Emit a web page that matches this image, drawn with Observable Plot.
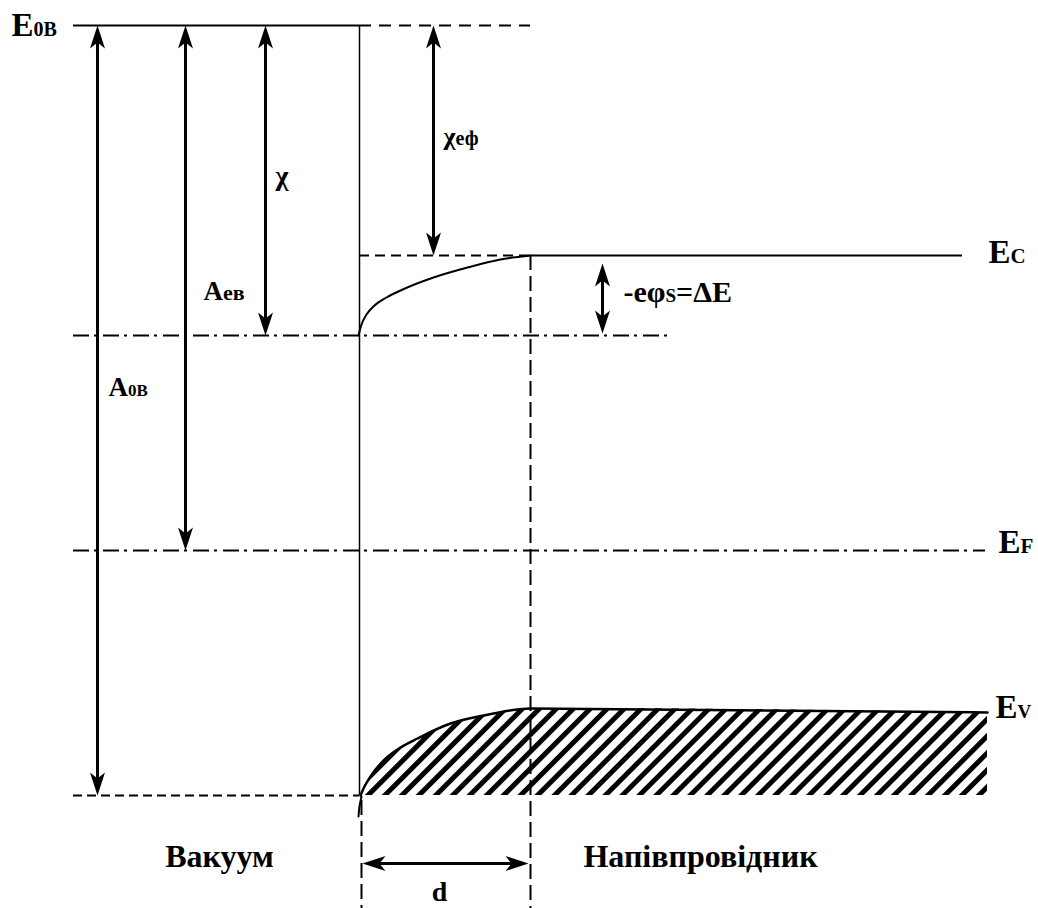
<!DOCTYPE html>
<html><head><meta charset="utf-8">
<script src="https://cdn.jsdelivr.net/npm/d3@7"></script>
<script src="https://cdn.jsdelivr.net/npm/@observablehq/plot@0.6"></script>
<style>html,body{margin:0;padding:0;background:#fff;} svg{display:block;} svg text{font-family:"Liberation Serif",serif;}</style>
</head><body><div id="chart"></div>
<script>
// ---- Energy levels (picture units, y grows downward) ----
const yE0B = 25;          // vacuum level
const yEc = 255;          // conduction band edge in bulk
const yEcSurface = 335;   // conduction band edge at surface
const yEF = 550;          // Fermi level
const yEvSurface = 795;   // valence band edge at surface
// ---- x positions ----
const xLevelStart = 73;
const xSurface = 359;
const xBulk = 530;
const xDashEnd = 530;
const xEcEnd = 962;
const xEsEnd = 667;
const xEFEnd = 985;

// Band bending curves
const ecBandX = [358, 361, 366, 374, 386, 400, 433, 467, 500, 530];
const ecBandY = [335, 324, 314, 305, 297, 290, 277, 267, 259, 255];
const evBandX = [360, 364, 370, 383, 400, 417, 450, 483, 517, 530, 987];
const evBandY = [795, 786, 776, 760, 747, 738, 723, 715, 709, 708, 712];
const evTailX = [358, 359, 361];
const evTailY = [816, 806, 796];

// Double arrows (vertical)
const arrowNames = ["A0B", "Aев", "χ", "χеф", "ΔE"];
const arrowX = [97, 185, 265, 433, 602];
const arrowTop = [25, 25, 25, 25, 263];
const arrowBottom = [795, 550, 335, 255, 333];
// Horizontal arrow "d"
const dArrowY = 863;
const dArrowX1 = 362, dArrowX2 = 528;

// Text labels: main text, subscript, tail
const labelMain = ["E", "E", "E", "E", "A", "A", "χ", "χ", "-eφ", "Вакуум", "Напівпровідник", "d"];
const labelSub  = ["0B", "C", "F", "V", "0B", "ев", "", "еф", "S", "", "", ""];
const labelTail = ["", "", "", "", "", "", "", "", "=ΔE", "", "", ""];
const labelX    = [11, 988, 998, 995, 108, 203, 275, 443, 623, 219, 700, 439];
const labelY    = [35, 262, 552, 717, 395, 299, 184, 144, 301, 866, 866, 900];
const labelSize = [33, 33, 33, 33, 27, 27, 28, 26, 30, 32, 32, 28];
const labelSubSize = [20, 21, 21, 19, 17, 22, 0, 20, 19, 0, 0, 0];
const labelAnchor = ["start","start","start","start","start","start","start","start","start","middle","middle","middle"];

const ecBand = ecBandX.map((x, i) => ({x, y: ecBandY[i]}));
const evBand = evBandX.map((x, i) => ({x, y: evBandY[i]}));
const evTail = evTailX.map((x, i) => ({x, y: evTailY[i]}));
const arrows = arrowNames.map((name, i) => ({name, x: arrowX[i], top: arrowTop[i], bottom: arrowBottom[i]}));
const heads = [
  ...arrows.map(a => ({x: a.x, y: a.top, rotate: 0})),
  ...arrows.map(a => ({x: a.x, y: a.bottom, rotate: 180})),
  {x: dArrowX1, y: dArrowY, rotate: -90},
  {x: dArrowX2, y: dArrowY, rotate: 90}
];
const labels = labelMain.map((main, i) => ({
  main, sub: labelSub[i], tail: labelTail[i],
  text: main + labelSub[i] + labelTail[i],
  x: labelX[i], y: labelY[i], size: labelSize[i], subSize: labelSubSize[i], anchor: labelAnchor[i]
}));

const arrowHead = {draw(ctx) { ctx.moveTo(0, 0); ctx.lineTo(-7.5, 23); ctx.lineTo(0, 17); ctx.lineTo(7.5, 23); ctx.closePath(); }};
const FONT = "Liberation Serif";
const CURVE = "monotone-x";

const marks = [
  Plot.areaY(evBand, {x: "x", y1: yEvSurface, y2: "y", curve: CURVE, fill: "url(#hatch)"}),
  Plot.ruleY([yE0B], {x1: xLevelStart, x2: xSurface, stroke: "black", strokeWidth: 2}),
  Plot.ruleY([yE0B], {x1: xSurface, x2: xDashEnd, stroke: "black", strokeWidth: 2, strokeDasharray: "12,8"}),
  Plot.ruleX([xSurface], {y1: yE0B, y2: yEvSurface, stroke: "black", strokeWidth: 1.5}),
  Plot.ruleX([361], {y1: 800, y2: 908, stroke: "black", strokeWidth: 2, strokeDasharray: "15,6"}),
  Plot.ruleX([xBulk], {y1: yEc, y2: 908, stroke: "black", strokeWidth: 2, strokeDasharray: "15,6"}),
  Plot.ruleY([yEc], {x1: xSurface, x2: xBulk, stroke: "black", strokeWidth: 2, strokeDasharray: "10,6"}),
  Plot.ruleY([yEc], {x1: xBulk, x2: xEcEnd, stroke: "black", strokeWidth: 2}),
  Plot.line(ecBand, {x: "x", y: "y", curve: CURVE, stroke: "black", strokeWidth: 2}),
  Plot.ruleY([yEcSurface], {x1: xLevelStart, x2: xEsEnd, stroke: "black", strokeWidth: 2, strokeDasharray: "16,5,3,6"}),
  Plot.ruleY([yEF], {x1: xLevelStart, x2: xEFEnd, stroke: "black", strokeWidth: 2, strokeDasharray: "16,5,3,6"}),
  Plot.line(evBand, {x: "x", y: "y", curve: CURVE, stroke: "black", strokeWidth: 2.5}),
  Plot.line(evTail, {x: "x", y: "y", curve: "catmull-rom", stroke: "black", strokeWidth: 2}),
  Plot.ruleY([yEvSurface], {x1: xLevelStart, x2: xSurface, stroke: "black", strokeWidth: 2, strokeDasharray: "9,5"}),
  Plot.ruleX(arrows, {x: "x", y1: d => d.top + 10, y2: d => d.bottom - 10, stroke: "black", strokeWidth: 3}),
  Plot.ruleY([dArrowY], {x1: dArrowX1 + 10, x2: dArrowX2 - 10, stroke: "black", strokeWidth: 3}),
  Plot.dot(heads, {x: "x", y: "y", rotate: "rotate", symbol: arrowHead, fill: "black", stroke: "none"}),
  ...labels.map(l => Plot.text([l], {x: "x", y: "y", text: "text", fontSize: l.size, textAnchor: l.anchor, lineAnchor: "bottom", fontFamily: FONT, fontWeight: "bold", fill: "black"}))
];

const svg = Plot.plot({
  width: 1038,
  height: 908,
  margin: 0,
  x: {domain: [0, 1038], range: [0, 1038], axis: null},
  y: {domain: [0, 908], range: [0, 908], axis: null},
  style: {background: "#fff", fontFamily: FONT},
  marks
});

// Hatch pattern for the filled valence band
const defs = d3.select(svg).insert("defs", ":first-child");
const pat = defs.append("pattern")
  .attr("id", "hatch")
  .attr("patternUnits", "userSpaceOnUse")
  .attr("width", 12).attr("height", 12)
  .attr("patternTransform", "rotate(45)");
pat.append("rect").attr("width", 12).attr("height", 12).attr("fill", "white");
pat.append("rect").attr("x", 4).attr("width", 5).attr("height", 12).attr("fill", "black");

// Split labels into main text + smaller subscript (still real text)
d3.select(svg).selectAll("text").each(function(_, i) {
  const l = labels[i];
  if (!l || !l.sub) return;
  const t = d3.select(this);
  t.text(null);
  t.append("tspan").text(l.main);
  t.append("tspan").attr("font-size", l.subSize).text(l.sub);
  if (l.tail) t.append("tspan").text(l.tail);
});

document.getElementById("chart").appendChild(svg);
</script>
</body></html>
